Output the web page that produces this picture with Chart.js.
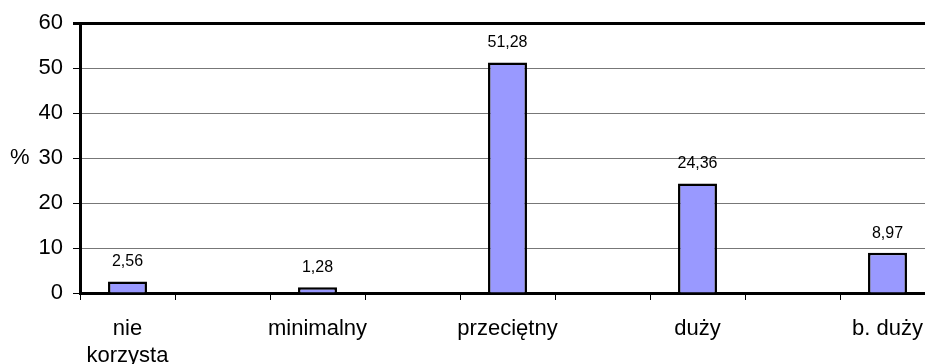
<!DOCTYPE html>
<html lang="pl">
<head>
    <meta charset="UTF-8">
    <title>Wykres</title>
    <script src="https://cdn.jsdelivr.net/npm/chart.js"></script>
    <style>
        html, body {
            margin: 0;
            padding: 0;
            background: #fff;
            overflow: hidden;
        }

        .chart-box {
            width: 925px;
            height: 364px;
            overflow: hidden;
        }
    </style>
</head>
<body>
    <div class="chart-box">
        <canvas id="chart" width="1040" height="364"></canvas>
    </div>

    <script>
        // data
        const categories = [['nie', 'korzysta'], 'minimalny', 'przeciętny', 'duży', 'b. duży'];
        const values = [2.56, 1.28, 51.28, 24.36, 8.97];
        const yMin = 0;
        const yMax = 60;
        const yStep = 10;

        // the original chart leaves an empty slot after every category
        const labels = categories.flatMap(c => [c, '']);
        const barData = values.flatMap(v => [v, null]);

        const font = '"Liberation Sans", Arial, sans-serif';

        // value labels above the bars, decimal comma
        const valueLabels = {
            id: 'valueLabels',
            afterDatasetsDraw(chart) {
                const ctx = chart.ctx;
                const meta = chart.getDatasetMeta(0);
                ctx.save();
                ctx.font = '16px ' + font;
                ctx.fillStyle = '#000';
                ctx.textAlign = 'center';
                ctx.textBaseline = 'alphabetic';
                meta.data.forEach((bar, i) => {
                    const v = barData[i];
                    if (v === null) return;
                    ctx.fillText(v.toFixed(2).replace('.', ','), bar.x, bar.y - 15);
                });
                ctx.restore();
            }
        };

        // "%" sits to the left of the 30 tick
        const percentTitle = {
            id: 'percentTitle',
            afterDraw(chart) {
                const ctx = chart.ctx;
                const y = chart.scales.y;
                ctx.save();
                ctx.font = '22px ' + font;
                ctx.fillStyle = '#000';
                ctx.textAlign = 'left';
                ctx.textBaseline = 'middle';
                ctx.fillText('%', 10, y.getPixelForValue(30));
                ctx.restore();
            }
        };

        new Chart(document.getElementById('chart'), {
            type: 'bar',
            data: {
                labels: labels,
                datasets: [{
                    data: barData,
                    backgroundColor: '#9999FF',
                    borderColor: '#000',
                    borderWidth: 2.5,
                    borderSkipped: 'start',
                    barPercentage: 0.41,
                    categoryPercentage: 1
                }]
            },
            options: {
                responsive: false,
                animation: false,
                devicePixelRatio: 1,
                layout: {
                    padding: { top: 21, right: 10, left: 0, bottom: 0 }
                },
                plugins: {
                    legend: { display: false },
                    tooltip: { enabled: false }
                },
                scales: {
                    x: {
                        offset: true,
                        afterFit(scale) { scale.height = 71; },
                        grid: {
                            offset: true,
                            drawOnChartArea: false,
                            drawTicks: true,
                            tickLength: 7,
                            tickColor: '#000',
                            tickWidth: 1
                        },
                        border: { color: '#000', width: 3 },
                        ticks: {
                            autoSkip: false,
                            maxRotation: 0,
                            minRotation: 0,
                            padding: 15,
                            color: '#000',
                            font: { family: font, size: 22, lineHeight: 1.25 }
                        }
                    },
                    y: {
                        min: yMin,
                        max: yMax,
                        afterFit(scale) { scale.width = 80; },
                        grid: {
                            color: ctx => ctx.tick && ctx.tick.value === yMax ? '#000' : '#777',
                            lineWidth: ctx => ctx.tick && ctx.tick.value === yMax ? 3 : 1,
                            drawTicks: true,
                            tickLength: 7,
                            tickColor: '#000'
                        },
                        border: { color: '#000', width: 3 },
                        ticks: {
                            stepSize: yStep,
                            padding: 10,
                            color: '#000',
                            font: { family: font, size: 22 }
                        }
                    }
                }
            },
            plugins: [valueLabels, percentTitle]
        });
    </script>
</body>
</html>
